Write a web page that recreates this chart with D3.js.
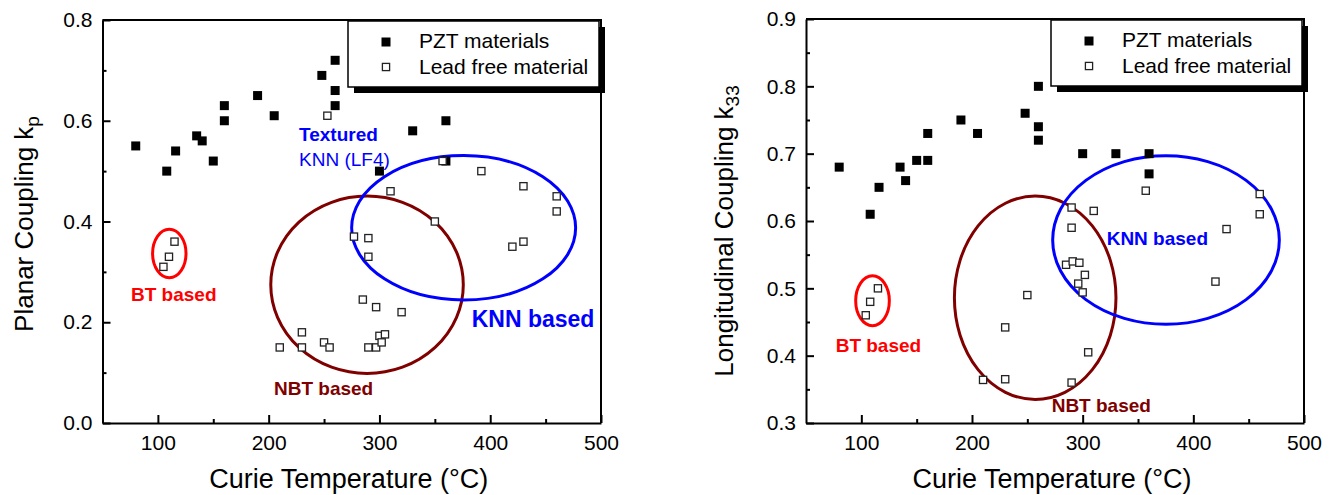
<!DOCTYPE html>
<html>
<head>
<meta charset="utf-8">
<script src="https://cdn.jsdelivr.net/npm/d3@7"></script>
<style>
  body { margin: 0; background: #fff; }
  svg { font-family: "Liberation Sans", Arial, Helvetica, sans-serif; }
</style>
</head>
<body>
<svg id="chart" width="1337" height="495"></svg>
<script>
// x ticks shared by both panels
var xTicks = [100, 200, 300, 400, 500],
    xMinor = [150, 250, 350, 450];

// left panel: planar coupling kp
var kpTicks = [0.0, 0.2, 0.4, 0.6, 0.8],
    kpMinor = [0.1, 0.3, 0.5, 0.7];
var pztKp = [[80,0.55],[108,0.50],[116,0.54],[135,0.57],[140,0.56],[150,0.52],[160,0.63],[160,0.60],
  [190,0.65],[205,0.61],[248,0.69],[260,0.72],[260,0.66],[260,0.63],[300,0.50],[330,0.58],[360,0.60],[360,0.52]];
var leadFreeKp = [[105,0.31],[110,0.33],[115,0.36],[210,0.15],[230,0.18],[230,0.15],[250,0.16],[255,0.15],
  [277,0.37],[285,0.245],[290,0.367],[290,0.33],[290,0.15],[297,0.23],[297,0.15],[300,0.173],[302,0.16],
  [305,0.176],[320,0.22],[253,0.61],[310,0.46],[350,0.40],[357,0.52],[392,0.50],[420,0.35],[430,0.36],
  [430,0.47],[460,0.45],[460,0.42]];

// right panel: longitudinal coupling k33
var k33Ticks = [0.3, 0.4, 0.5, 0.6, 0.7, 0.8, 0.9],
    k33Minor = [0.35, 0.45, 0.55, 0.65, 0.75, 0.85];
var pztK33 = [[80,0.68],[108,0.61],[116,0.65],[135,0.68],[140,0.66],[150,0.69],[160,0.73],[160,0.69],
  [190,0.75],[205,0.73],[248,0.76],[260,0.80],[260,0.74],[260,0.72],[300,0.70],[330,0.70],[360,0.70],[360,0.67]];
var leadFreeK33 = [[104,0.46],[108,0.48],[115,0.50],[210,0.364],[230,0.365],[230,0.442],[250,0.49],
  [285,0.535],[291,0.54],[297,0.538],[302,0.52],[296,0.507],[300,0.494],[305,0.405],[290,0.36],[290,0.62],
  [290,0.59],[310,0.615],[357,0.645],[420,0.51],[430,0.588],[460,0.64],[460,0.61]];

// group ellipses: [cx, cy, rx, ry] in data units
var groupsKp = [
  { name: "BT", e: [110.3, 0.3365, 15.1, 0.048], color: "#ff0000" },
  { name: "NBT", e: [288.8, 0.2745, 86.9, 0.176], color: "#800000" },
  { name: "KNN", e: [376, 0.3875, 101.1, 0.1433], color: "#0000ff" }
];
var groupsK33 = [
  { name: "BT", e: [110.1, 0.4816, 15.2, 0.0371], color: "#ff0000" },
  { name: "NBT", e: [257.1, 0.486, 73, 0.151], color: "#800000" },
  { name: "KNN", e: [375.3, 0.5718, 102.4, 0.1252], color: "#0000ff" }
];

var notesKp = [
  { text: "Textured", x: 227.4, y: 0.56, size: 19, bold: true, color: "#0000ff" },
  { text: "KNN (LF4)", x: 227.4, y: 0.51, size: 19, bold: false, color: "#0000ff" },
  { text: "BT based", x: 75.7, y: 0.242, size: 19, bold: true, color: "#ff0000" },
  { text: "NBT based", x: 204.8, y: 0.0556, size: 19, bold: true, color: "#800000" },
  { text: "KNN based", x: 383.3, y: 0.19, size: 23, bold: true, color: "#0000ff" }
];
var notesK33 = [
  { text: "BT based", x: 76.8, y: 0.4055, size: 19, bold: true, color: "#ff0000" },
  { text: "KNN based", x: 321.7, y: 0.5644, size: 19, bold: true, color: "#0000ff" },
  { text: "NBT based", x: 272, y: 0.3163, size: 19, bold: true, color: "#800000" }
];

var legendLabels = ["PZT materials", "Lead free material"];

var svg = d3.select("#chart");

function drawPanel(p) {
  var g = svg.append("g");
  var x = d3.scaleLinear().domain([50, 500]).range(p.xRange),
      y = d3.scaleLinear().domain(p.yDomain).range([423, p.yTop]);

  // minor ticks
  g.append("g").attr("transform", "translate(0,423)")
      .call(d3.axisBottom(x).tickValues(xMinor).tickSizeInner(-4).tickSizeOuter(0).tickFormat(""))
      .call(s => s.select(".domain").remove());
  g.append("g").attr("transform", "translate(" + p.xRange[0] + ",0)")
      .call(d3.axisLeft(y).tickValues(p.yMinor).tickSizeInner(-4).tickSizeOuter(0).tickFormat(""))
      .call(s => s.select(".domain").remove());

  // major axes
  g.append("g").attr("transform", "translate(0,423)")
      .call(d3.axisBottom(x).tickValues(xTicks).tickSizeInner(-8).tickSizeOuter(0).tickPadding(12));
  g.append("g").attr("transform", "translate(" + p.xRange[0] + ",0)")
      .call(d3.axisLeft(y).tickValues(p.yTicks).tickSizeInner(-8).tickSizeOuter(0).tickPadding(10)
        .tickFormat(d3.format(".1f")));
  g.selectAll(".tick line").attr("stroke", "#000").attr("stroke-width", 2);
  g.selectAll(".tick text").style("font-size", "21px").attr("fill", "#000").style("font-family", null);
  g.selectAll(".domain").attr("stroke-width", 2);

  // frame top + right
  g.append("path")
      .attr("d", "M" + p.xRange[0] + "," + p.yTop + "H" + p.xRange[1] + "V423")
      .attr("fill", "none").attr("stroke", "#000").attr("stroke-width", 2);

  // axis titles
  g.append("text")
      .attr("x", (p.xRange[0] + p.xRange[1]) / 2 - 3).attr("y", 488)
      .attr("text-anchor", "middle").style("font-size", "27px")
      .text("Curie Temperature (\u00B0C)");
  var yt = g.append("text")
      .attr("transform", "translate(" + p.titleX + "," + p.titleY + ") rotate(-90)")
      .attr("text-anchor", "middle").style("font-size", "26px");
  yt.append("tspan").text(p.yTitle);
  yt.append("tspan").attr("dy", 6).style("font-size", "19px").text(p.ySub);

  // group ellipses
  g.selectAll("ellipse").data(p.groups).enter().append("ellipse")
      .attr("cx", d => x(d.e[0])).attr("cy", d => y(d.e[1]))
      .attr("rx", d => x(d.e[0] + d.e[2]) - x(d.e[0]))
      .attr("ry", d => y(d.e[1]) - y(d.e[1] + d.e[3]))
      .attr("fill", "none").attr("stroke", d => d.color).attr("stroke-width", 3);

  // points
  g.append("g").selectAll("rect").data(p.pzt).enter().append("rect")
      .attr("x", d => x(d[0]) - 4.5).attr("y", d => y(d[1]) - 4.5)
      .attr("width", 9).attr("height", 9).attr("fill", "#000");
  g.append("g").selectAll("rect").data(p.leadFree).enter().append("rect")
      .attr("x", d => x(d[0]) - 3.6).attr("y", d => y(d[1]) - 3.6)
      .attr("width", 7.2).attr("height", 7.2).attr("fill", "#fff")
      .attr("stroke", "#222").attr("stroke-width", 1.3);

  // annotations
  g.selectAll(".note").data(p.notes).enter().append("text")
      .classed("note", true)
      .attr("x", d => x(d.x)).attr("y", d => y(d.y))
      .style("font-size", d => d.size + "px")
      .style("font-weight", d => d.bold ? "bold" : "normal")
      .attr("fill", d => d.color)
      .text(d => d.text);

  // legend with drop shadow
  var lx = p.legend[0], ly = p.legend[1], lw = 251, lh = 66;
  g.append("rect").attr("x", lx + 6).attr("y", ly + 6).attr("width", lw).attr("height", lh).attr("fill", "#000");
  g.append("rect").attr("x", lx).attr("y", ly).attr("width", lw).attr("height", lh)
      .attr("fill", "#fff").attr("stroke", "#000").attr("stroke-width", 1.5);
  g.append("rect").attr("x", lx + 38 - 4.5).attr("y", ly + 21 - 4.5).attr("width", 9).attr("height", 9).attr("fill", "#000");
  g.append("rect").attr("x", lx + 38 - 3.6).attr("y", ly + 46 - 3.6).attr("width", 7.2).attr("height", 7.2)
      .attr("fill", "#fff").attr("stroke", "#222").attr("stroke-width", 1.3);
  g.selectAll(".leg").data(legendLabels).enter().append("text")
      .classed("leg", true)
      .attr("x", lx + 71).attr("y", (d, i) => ly + 27 + i * 26)
      .style("font-size", "21px").text(d => d);
}

drawPanel({
  xRange: [102.5, 601], yDomain: [0, 0.8], yTop: 20,
  yTicks: kpTicks, yMinor: kpMinor,
  pzt: pztKp, leadFree: leadFreeKp, groups: groupsKp, notes: notesKp,
  yTitle: "Planar Coupling k", ySub: "p", titleX: 33, titleY: 224,
  legend: [348, 21]
});
drawPanel({
  xRange: [806, 1304], yDomain: [0.3, 0.9], yTop: 19,
  yTicks: k33Ticks, yMinor: k33Minor,
  pzt: pztK33, leadFree: leadFreeK33, groups: groupsK33, notes: notesK33,
  yTitle: "Longitudinal Coupling k", ySub: "33", titleX: 733, titleY: 231,
  legend: [1051, 20]
});
</script>
</body>
</html>
